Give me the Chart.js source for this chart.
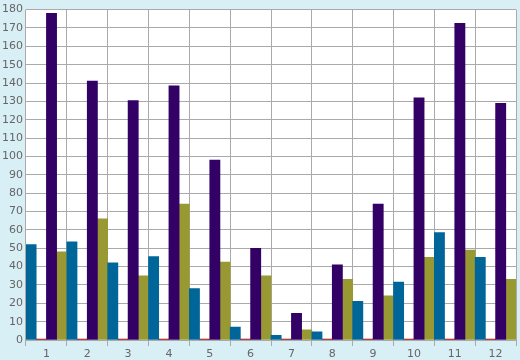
<!DOCTYPE html>
<html>
<head>
<meta charset="utf-8">
<script src="https://cdn.jsdelivr.net/npm/chart.js@4/dist/chart.umd.min.js"></script>
<style>
    html, body { margin: 0; padding: 0; background: #d9eff6; }
    #wrap { width: 520px; height: 360px; }
</style>
</head>
<body>
<div id="wrap"><canvas id="chart" width="520" height="360"></canvas></div>
<script>
// Data
const categories = ['1', '2', '3', '4', '5', '6', '7', '8', '9', '10', '11', '12'];
const blueValues = [52, 53.5, 42, 45.5, 28, 7, 2.5, 4.5, 21, 31.5, 58.5, 45];
const redValues = [0, 0, 0, 0, 0, 0, 0, 0, 0, 0, 0, 0];
const purpleValues = [178, 141, 130.5, 138.5, 98, 50, 14.5, 41, 74, 132, 172.5, 129];
const oliveValues = [48, 66, 35, 74, 42.5, 35, 5.5, 33, 24, 45, 49, 33];
const yMin = 0, yMax = 180, yStep = 10;

// Paint light blue page and white plot area
const backgroundPlugin = {
    id: 'bg',
    beforeDraw(chart) {
        const { ctx, chartArea: a } = chart;
        ctx.save();
        ctx.fillStyle = '#d9eff6';
        ctx.fillRect(0, 0, chart.width, chart.height);
        ctx.fillStyle = '#ffffff';
        ctx.fillRect(a.left, a.top, a.right - a.left, a.bottom - a.top);
        ctx.restore();
    }
};

const ctx = document.getElementById('chart').getContext('2d');
new Chart(ctx, {
    type: 'bar',
    data: {
        labels: categories,
        datasets: [
            { data: blueValues, backgroundColor: '#006699' },
            { data: redValues, backgroundColor: '#990000', minBarLength: 1 },
            { data: purpleValues, backgroundColor: '#330066' },
            { data: oliveValues, backgroundColor: '#999933' }
        ]
    },
    options: {
        responsive: false,
        animation: false,
        datasets: { bar: { barPercentage: 1, categoryPercentage: 1, borderWidth: 0 } },
        layout: { padding: { top: 5, right: 4, left: 0, bottom: 0 } },
        plugins: { legend: { display: false }, tooltip: { enabled: false } },
        scales: {
            x: {
                grid: { color: '#aaaaaa', offset: true, tickLength: 6, lineWidth: 1 },
                border: { display: false },
                ticks: { color: '#666666', font: { family: 'DejaVu Sans', size: 11 }, padding: 2 },
                afterFit(scale) { scale.height = 20; }
            },
            y: {
                min: yMin,
                max: yMax,
                grid: { color: '#aaaaaa', drawTicks: false, lineWidth: 1 },
                border: { display: false },
                ticks: { stepSize: yStep, color: '#666666', font: { family: 'DejaVu Sans', size: 11 }, padding: 3 },
                afterFit(scale) { scale.width = 26; }
            }
        }
    },
    plugins: [backgroundPlugin]
});
</script>
</body>
</html>
